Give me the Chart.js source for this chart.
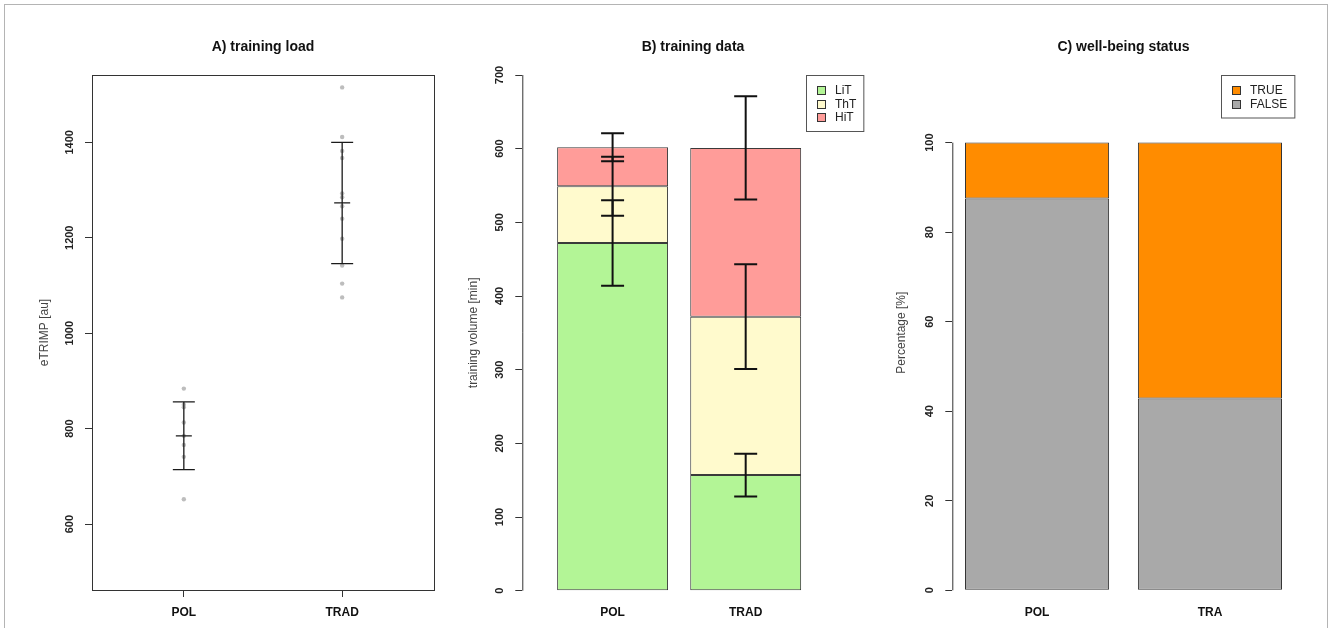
<!DOCTYPE html>
<html>
<head>
<meta charset="utf-8">
<script src="https://cdn.jsdelivr.net/npm/chart.js@4.4.1/dist/chart.umd.min.js"></script>
<style>
  html, body { margin: 0; padding: 0; background: #fff; }
  #page { position: relative; width: 1328px; height: 628px; overflow: hidden; }
  #frame { position: absolute; left: 4px; top: 4px; width: 1324px; height: 700px; box-sizing: border-box; border: 1px solid #b4b4b4; }
  .panel { position: absolute; top: 0; height: 628px; }
</style>
</head>
<body>
<div id="page">
  <div id="frame"></div>
  <div class="panel" style="left:0;width:440px"><canvas id="chartA"></canvas></div>
  <div class="panel" style="left:440px;width:440px"><canvas id="chartB"></canvas></div>
  <div class="panel" style="left:880px;width:448px"><canvas id="chartC"></canvas></div>
</div>
<script>
// A) training load
const loadGroups = ['POL', 'TRAD'];
const polLoad = [884, 850, 845, 813, 785, 766, 741, 652];
const tradLoad = [1515, 1411, 1382, 1367, 1293, 1285, 1266, 1240, 1198, 1142, 1104, 1075];
const loadMean = [785, 1273];
const loadSd = [71, 127];
const loadTicks = [600, 800, 1000, 1200, 1400];

// B) training data, minutes per zone
const volGroups = ['POL', 'TRAD'];
const zones = ['LiT', 'ThT', 'HiT'];
const litMin = [472, 157];
const thtMin = [77, 215];
const hitMin = [53, 229];
const litSd = [58, 29];
const thtSd = [40, 71];
const hitSd = [19, 70];
const volTicks = [0, 100, 200, 300, 400, 500, 600, 700];

// C) well-being status, percent
const statusGroups = ['POL', 'TRA'];
const truePct = [12.5, 57.14];
const falsePct = [87.5, 42.86];
const pctTicks = [0, 20, 40, 60, 80, 100];

Chart.defaults.font.family = '"Liberation Sans", Arial, sans-serif';
Chart.defaults.animation = false;

// barplot positions like R (width 1, space 0.2)
const barX = (i) => 0.7 + 1.2 * i;

// title, axis line, rotated y labels and legend in R style
const rStyle = {
  id: 'rStyle',
  afterDraw(chart, args, opts) {
    const ctx = chart.ctx;
    const area = chart.chartArea;
    const y = chart.scales.y;
    ctx.save();
    ctx.textAlign = 'center';
    ctx.textBaseline = 'middle';
    ctx.fillStyle = '#111';
    ctx.font = 'bold 14px "Liberation Sans", Arial, sans-serif';
    ctx.fillText(opts.title, (area.left + area.right) / 2, area.top - 28);

    ctx.strokeStyle = '#333';
    ctx.lineWidth = 1;
    if (opts.box) {
      ctx.strokeRect(area.left + 0.5, area.top + 0.5, area.right - area.left, area.bottom - area.top);
    } else {
      const t = y.ticks;
      ctx.beginPath();
      ctx.moveTo(area.left + 0.5, y.getPixelForValue(t[0].value));
      ctx.lineTo(area.left + 0.5, y.getPixelForValue(t[t.length - 1].value));
      ctx.stroke();
    }

    ctx.font = 'bold 11px "Liberation Sans", Arial, sans-serif';
    ctx.fillStyle = '#222';
    y.ticks.forEach(t => {
      ctx.save();
      ctx.translate(area.left - 22, y.getPixelForValue(t.value));
      ctx.rotate(-Math.PI / 2);
      ctx.fillText(String(t.value), 0, 0);
      ctx.restore();
    });

    if (opts.legend) {
      const items = opts.legend.map(i => chart.data.datasets[i]);
      ctx.font = '12px "Liberation Sans", Arial, sans-serif';
      const w = Math.max(...items.map(d => ctx.measureText(d.label).width)) + 36;
      const h = 29 + (items.length - 1) * 13.5;
      const x0 = Math.round(area.right - w);
      const y0 = Math.round(area.top);
      ctx.strokeStyle = '#555';
      ctx.strokeRect(x0 + 0.5, y0 + 0.5, w, h);
      ctx.textAlign = 'left';
      items.forEach((d, k) => {
        const cy = Math.round(y0 + 15 + k * 13.5);
        ctx.fillStyle = d.backgroundColor;
        ctx.fillRect(x0 + 11, cy - 4, 9, 9);
        ctx.strokeStyle = '#333';
        ctx.strokeRect(x0 + 11.5, cy - 3.5, 8, 8);
        ctx.fillStyle = '#222';
        ctx.fillText(d.label, x0 + 29, cy + 0.5);
      });
    }
    ctx.restore();
  }
};

const tickGrid = { display: true, drawOnChartArea: false, drawTicks: true, tickLength: 7, color: '#333' };

// ---- A ----
new Chart(document.getElementById('chartA'), {
  type: 'scatter',
  data: {
    datasets: [
      { label: 'POL', data: polLoad.map(v => ({ x: 1, y: v })) },
      { label: 'TRAD', data: tradLoad.map(v => ({ x: 2, y: v })) }
    ]
  },
  options: {
    responsive: true,
    maintainAspectRatio: false,
    layout: { padding: { left: 33, right: 6, top: 75, bottom: 0 } },
    elements: { point: { radius: 2.2, backgroundColor: '#bdbdbd', borderWidth: 0 } },
    plugins: {
      legend: { display: false },
      tooltip: { enabled: false },
      rStyle: { title: 'A) training load', box: true }
    },
    scales: {
      x: {
        type: 'linear', min: 0.42, max: 2.58, offset: false,
        afterBuildTicks: s => { s.ticks = loadGroups.map((g, i) => ({ value: i + 1 })); },
        afterFit: s => { s.height = 38; },
        ticks: { callback: (v, i) => loadGroups[i], font: { size: 12, weight: 'bold' }, color: '#111', padding: 8, autoSkip: false, maxRotation: 0 },
        grid: tickGrid,
        border: { display: false }
      },
      y: {
        min: 462, max: 1541,
        afterBuildTicks: s => { s.ticks = loadTicks.map(v => ({ value: v })); },
        afterFit: s => { s.width = 59; },
        ticks: { display: false },
        grid: tickGrid,
        border: { display: false },
        title: { display: true, text: 'eTRIMP [au]', font: { size: 12 }, color: '#444', padding: { top: 4, bottom: 4 } }
      }
    }
  },
  plugins: [rStyle, {
    id: 'meanSd',
    afterDatasetsDraw(chart) {
      const { ctx, scales: { x, y } } = chart;
      ctx.save();
      ctx.strokeStyle = '#1a1a1a';
      ctx.lineWidth = 1.3;
      loadMean.forEach((m, i) => {
        const px = x.getPixelForValue(i + 1);
        const top = y.getPixelForValue(m + loadSd[i]);
        const bot = y.getPixelForValue(m - loadSd[i]);
        const mid = y.getPixelForValue(m);
        ctx.beginPath();
        ctx.moveTo(px, top); ctx.lineTo(px, bot);
        ctx.moveTo(px - 11, top); ctx.lineTo(px + 11, top);
        ctx.moveTo(px - 11, bot); ctx.lineTo(px + 11, bot);
        ctx.moveTo(px - 8, mid); ctx.lineTo(px + 8, mid);
        ctx.stroke();
      });
      ctx.restore();
    }
  }]
});

// ---- B ----
const zoneColors = ['#b3f596', '#fffacd', '#ff9c99'];
const zoneValues = [litMin, thtMin, hitMin];
const zoneSds = [litSd, thtSd, hitSd];

new Chart(document.getElementById('chartB'), {
  type: 'bar',
  data: {
    datasets: zones.map((z, k) => ({
      label: z,
      stack: 'vol',
      data: volGroups.map((g, i) => ({ x: barX(i), y: zoneValues[k][i] })),
      backgroundColor: zoneColors[k],
      borderColor: '#3a3a3a',
      borderWidth: 1,
      borderSkipped: false,
      categoryPercentage: 1,
      barPercentage: 1 / 1.2
    }))
  },
  options: {
    responsive: true,
    maintainAspectRatio: false,
    layout: { padding: { left: 22, right: 16.3, top: 75, bottom: 0 } },
    plugins: {
      legend: { display: false },
      tooltip: { enabled: false },
      rStyle: { title: 'B) training data', legend: [0, 1, 2] }
    },
    scales: {
      x: {
        type: 'linear', min: -0.114, max: 2.964, offset: false,
        afterBuildTicks: s => { s.ticks = volGroups.map((g, i) => ({ value: barX(i) })); },
        afterFit: s => { s.height = 37.3; },
        ticks: { callback: (v, i) => volGroups[i], font: { size: 12, weight: 'bold' }, color: '#111', padding: 15, autoSkip: false, maxRotation: 0 },
        grid: { display: false, drawTicks: false, offset: false },
        border: { display: false }
      },
      y: {
        stacked: true, min: 0, max: 700,
        afterBuildTicks: s => { s.ticks = volTicks.map(v => ({ value: v })); },
        afterFit: s => { s.width = 60.3; },
        ticks: { display: false },
        grid: tickGrid,
        border: { display: false },
        title: { display: true, text: 'training volume [min]', font: { size: 12 }, color: '#444', padding: { top: 4, bottom: 4 } }
      }
    }
  },
  plugins: [rStyle, {
    id: 'zoneSd',
    afterDatasetsDraw(chart) {
      const { ctx, scales: { x, y } } = chart;
      ctx.save();
      ctx.strokeStyle = '#111';
      ctx.lineWidth = 2;
      volGroups.forEach((g, i) => {
        const px = x.getPixelForValue(barX(i));
        let cum = 0;
        zoneValues.forEach((vals, k) => {
          cum += vals[i];
          const top = y.getPixelForValue(cum + zoneSds[k][i]);
          const bot = y.getPixelForValue(cum - zoneSds[k][i]);
          ctx.beginPath();
          ctx.moveTo(px, top); ctx.lineTo(px, bot);
          ctx.moveTo(px - 11.5, top); ctx.lineTo(px + 11.5, top);
          ctx.moveTo(px - 11.5, bot); ctx.lineTo(px + 11.5, bot);
          ctx.stroke();
        });
      });
      ctx.restore();
    }
  }]
});

// ---- C ----
new Chart(document.getElementById('chartC'), {
  type: 'bar',
  data: {
    datasets: [
      { label: 'FALSE', data: statusGroups.map((g, i) => ({ x: barX(i), y: falsePct[i] })), backgroundColor: '#a9a9a9' },
      { label: 'TRUE', data: statusGroups.map((g, i) => ({ x: barX(i), y: truePct[i] })), backgroundColor: '#ff8c00' }
    ].map(d => Object.assign(d, { stack: 'pct', borderColor: '#333', borderWidth: 1, borderSkipped: false, categoryPercentage: 1, barPercentage: 1 / 1.2 }))
  },
  options: {
    responsive: true,
    maintainAspectRatio: false,
    layout: { padding: { left: 10.8, right: 33.3, top: 75, bottom: 0 } },
    plugins: {
      legend: { display: false },
      tooltip: { enabled: false },
      rStyle: { title: 'C) well-being status', legend: [1, 0] }
    },
    scales: {
      x: {
        type: 'linear', min: 0.112, max: 2.488, offset: false,
        afterBuildTicks: s => { s.ticks = statusGroups.map((g, i) => ({ value: barX(i) })); },
        afterFit: s => { s.height = 37.7; },
        ticks: { callback: (v, i) => statusGroups[i], font: { size: 12, weight: 'bold' }, color: '#111', padding: 15, autoSkip: false, maxRotation: 0 },
        grid: { display: false, drawTicks: false, offset: false },
        border: { display: false }
      },
      y: {
        stacked: true, min: 0, max: 115.1,
        afterBuildTicks: s => { s.ticks = pctTicks.map(v => ({ value: v })); },
        afterFit: s => { s.width = 61.5; },
        ticks: { display: false },
        grid: tickGrid,
        border: { display: false },
        title: { display: true, text: 'Percentage [%]', font: { size: 12 }, color: '#444', padding: { top: 4, bottom: 4 } }
      }
    }
  },
  plugins: [rStyle]
});
</script>
</body>
</html>
